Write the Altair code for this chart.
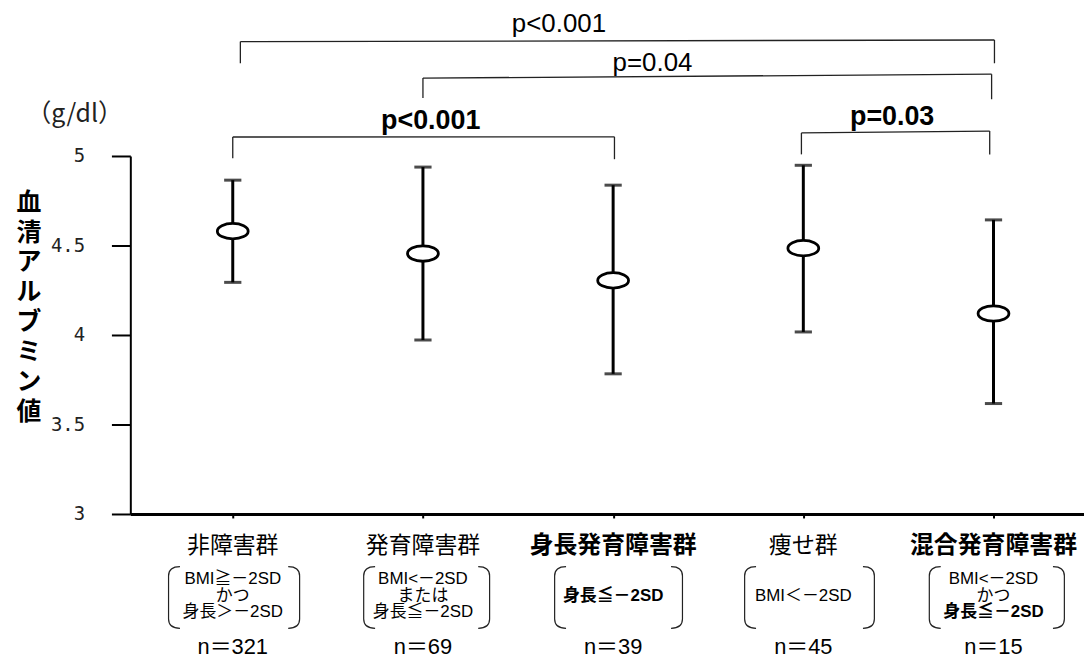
import altair as alt
import pandas as pd

# ---------------- data ----------------
groups = ["非障害群", "発育障害群", "身長発育障害群", "痩せ群", "混合発育障害群"]
group_bold = [False, False, True, False, True]
means = [4.58, 4.455, 4.305, 4.485, 4.12]
upper = [4.865, 4.938, 4.837, 4.948, 4.643]
lower = [4.294, 3.972, 3.783, 4.017, 3.617]
n_labels = ["n＝321", "n＝69", "n＝39", "n＝45", "n＝15"]
conditions = [
    [("BMI≧－2SD", False), ("かつ", False), ("身長＞－2SD", False)],
    [("BMI<－2SD", False), ("または", False), ("身長≦－2SD", False)],
    [("身長≦－2SD", True)],
    [("BMI＜－2SD", False)],
    [("BMI<－2SD", False), ("かつ", False), ("身長≦－2SD", True)],
]
y_ticks = [3, 3.5, 4, 4.5, 5]
y_title = "血清アルブミン値"
y_unit = "（g/dl）"

# significance brackets: x left/right (group index), y tops and bottoms, label
cmp_x1 = [1.04, 2.0, 1.0, 3.99]
cmp_x2 = [5.005, 4.99, 3.007, 4.98]
cmp_top_l = [5.639, 5.435, 5.106, 5.129]
cmp_top_r = [5.648, 5.457, 5.107, 5.139]
cmp_bot_l = [5.518, 5.324, 4.987, 5.009]
cmp_bot_r = [5.518, 5.317, 4.982, 5.009]
cmp_label = ["p<0.001", "p=0.04", "p<0.001", "p=0.03"]
cmp_bold = [False, False, True, True]
cmp_lx = [2.715, 3.207, 2.041, 4.467]
cmp_ly = [5.739, 5.517, 5.194, 5.217]

# bracket "( )" around condition text (x in group index units)
paren_l = [0.690, 1.716, 2.720, 3.719, 4.690]
paren_r = [1.324, 2.323, 3.337, 4.346, 5.345]

# ---------------- tables ----------------
idx = list(range(1, len(groups) + 1))
df = pd.DataFrame({"idx": idx, "group": groups, "mean": means,
                   "upper": upper, "lower": lower})

cmp_df = pd.DataFrame({"x1": cmp_x1, "x2": cmp_x2, "tl": cmp_top_l, "tr": cmp_top_r,
                       "bl": cmp_bot_l, "br": cmp_bot_r, "label": cmp_label,
                       "bold": cmp_bold, "lx": cmp_lx, "ly": cmp_ly})

FONT = "Noto Sans CJK JP"
MIX = "Liberation Sans, Noto Sans CJK JP"
X0, X1 = 0.4614, 5.4758
xs = alt.Scale(domain=[X0, X1], nice=False, zero=False)
ys = alt.Scale(domain=[3, 5], nice=False, zero=False)

base = alt.Chart(df)

xaxis = alt.Axis(values=idx, labels=False, title=None, grid=False, domainWidth=3,
                 domainColor="black", tickColor="black", tickSize=4, tickWidth=2)
yaxis = alt.Axis(values=y_ticks, title=None, grid=False, domainWidth=2,
                 domainColor="black", tickColor="black", tickSize=19, tickWidth=2,
                 labelFont="DejaVu Sans Mono", labelFontSize=19, labelColor="#222",
                 labelPadding=27, labelExpr="format(datum.value, '.1~f')")

err = base.mark_rule(color="black", strokeWidth=3).encode(
    x=alt.X("idx:Q", scale=xs, axis=xaxis),
    y=alt.Y("lower:Q", scale=ys, axis=yaxis),
    y2="upper:Q",
)
cap_shape = "M -1 0 L 1 0"
cap_hi = base.mark_point(shape=cap_shape, size=300, color="black", strokeWidth=3,
                         filled=False).encode(x="idx:Q", y="upper:Q")
cap_lo = base.mark_point(shape=cap_shape, size=300, color="black", strokeWidth=3,
                         filled=False).encode(x="idx:Q", y="lower:Q")
ell = base.mark_point(shape="M -1 0 A 1 0.5 0 1 1 1 0 A 1 0.5 0 1 1 -1 0 Z",
                      size=961, filled=True, fill="white", stroke="black",
                      strokeWidth=2.8, opacity=1).encode(x="idx:Q", y="mean:Q")

cb = alt.Chart(cmp_df)
lc = "#222"
h_line = cb.mark_rule(color=lc, strokeWidth=1.3).encode(x="x1:Q", x2="x2:Q", y="tl:Q", y2="tr:Q")
v_left = cb.mark_rule(color=lc, strokeWidth=1.3).encode(x="x1:Q", y="tl:Q", y2="bl:Q")
v_right = cb.mark_rule(color=lc, strokeWidth=1.3).encode(x="x2:Q", y="tr:Q", y2="br:Q")
p_norm = cb.transform_filter("!datum.bold").mark_text(
    font="Liberation Sans", fontSize=26, color="black", baseline="middle").encode(
    x="lx:Q", y="ly:Q", text="label:N")
p_bold = cb.transform_filter("datum.bold").mark_text(
    font="Liberation Sans", fontSize=27, fontWeight="bold", color="black",
    baseline="middle").encode(x="lx:Q", y="ly:Q", text="label:N")

layers = [err, cap_hi, cap_lo, ell, h_line, v_left, v_right, p_norm, p_bold]

# category labels below the axis
rows = []
for i, g in enumerate(groups):
    rows.append({"idx": i + 1, "text": g, "py": 392, "bold": group_bold[i],
                 "fs": 24 if group_bold[i] else 23})
    rows.append({"idx": i + 1, "text": n_labels[i], "py": 494, "bold": False, "fs": 22})
    conds = conditions[i]
    pys = [425, 442, 459] if len(conds) == 3 else [442]
    for (t, b), py in zip(conds, pys):
        rows.append({"idx": i + 1, "text": t, "py": py, "bold": b, "fs": 17})
lab = pd.DataFrame(rows)
for (py, b, fs), sub in lab.groupby(["py", "bold", "fs"]):
    fam = FONT if py == 392 else MIX
    layers.append(alt.Chart(sub).mark_text(
        font=fam, fontSize=int(fs), fontWeight="bold" if b else "normal",
        color="black", baseline="middle").encode(
        x="idx:Q", y=alt.value(int(py)), text="text:N"))

lp = "M 0.2 -1 Q -0.17 -1 -0.17 -0.7 L -0.17 0.7 Q -0.17 1 0.2 1"
rp = "M -0.2 -1 Q 0.17 -1 0.17 -0.7 L 0.17 0.7 Q 0.17 1 -0.2 1"
par = pd.DataFrame({"l": paren_l, "r": paren_r})
layers.append(alt.Chart(par).mark_point(shape=lp, size=3844, filled=False, color="#222",
                                        strokeWidth=1.2, opacity=1).encode(
    x="l:Q", y=alt.value(444)))
layers.append(alt.Chart(par).mark_point(shape=rp, size=3844, filled=False, color="#222",
                                        strokeWidth=1.2, opacity=1).encode(
    x="r:Q", y=alt.value(444)))

# y axis title: characters stacked vertically
for k, ch in enumerate(y_title):
    layers.append(alt.Chart(pd.DataFrame({"t": [ch]})).mark_text(
        font=FONT, fontSize=25, fontWeight="bold", baseline="middle",
        color="black").encode(
        x=alt.value(-102), y=alt.value(47 + 30 * k), text="t:N"))
layers.append(alt.Chart(pd.DataFrame({"t": [y_unit]})).mark_text(
    font=FONT, fontSize=25, baseline="middle", color="#222").encode(
    x=alt.value(-56), y=alt.value(-42), text="t:N"))

chart = alt.layer(*layers).properties(
    width=959, height=360,
    autosize=alt.AutoSizeParams(type="none"),
    padding={"left": 123, "top": 147, "right": 0, "bottom": 143},
).configure_view(stroke=None)

chart.save("out.html", embed_options={"renderer": "svg", "actions": False})
